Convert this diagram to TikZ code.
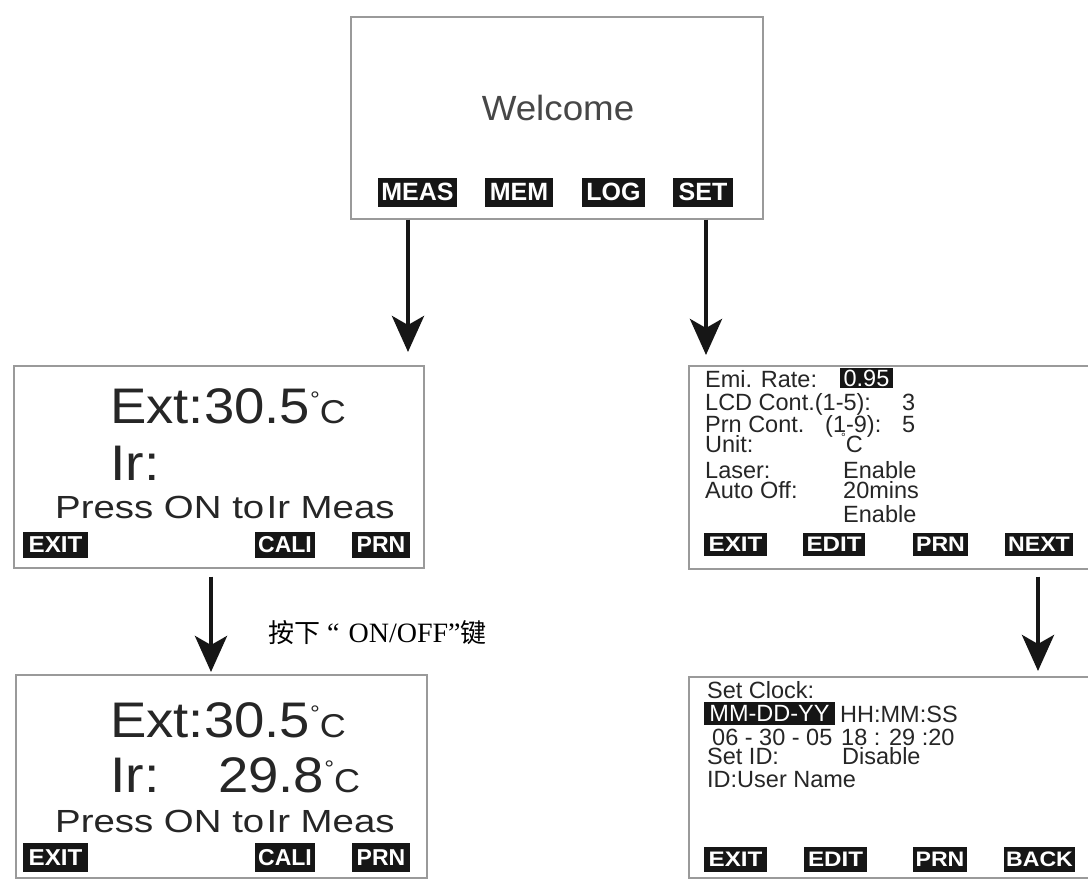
\documentclass[tikz,border=0pt]{standalone}
\usepackage{fontspec}
\setmainfont{Liberation Sans}
\newfontfamily\cjkfont{Noto Sans CJK SC}
\newfontfamily\latserif{Liberation Serif}
\usepackage{graphicx}
\usetikzlibrary{arrows.meta}
\newcommand\wx[2]{\scalebox{#1}[1]{#2}}
\newcommand\degC{\raisebox{0.31em}{\scalebox{0.45}{°}}\scalebox{0.66}{C}}
\newcommand\unitdeg{\raisebox{0.45em}{\scalebox{0.5}{°}}C}
\definecolor{lcd}{HTML}{262626}
\definecolor{frame}{HTML}{9A9A9A}
\definecolor{key}{HTML}{161616}
\begin{document}
\begin{tikzpicture}[x=1pt,y=-1pt,
 screen/.style={draw=frame, line width=1.6pt, fill=white, inner sep=0pt, anchor=north west},
 keybig/.style={fill=key, text=white, inner sep=0pt, font=\bfseries\fontsize{25}{25}\selectfont},
 keymid/.style={keybig, font=\bfseries\fontsize{23}{23}\selectfont},
 keysm/.style={keybig, font=\bfseries\fontsize{21}{21}\selectfont},
 bigtxt/.style={anchor=base west, inner sep=0pt, text=lcd, font=\fontsize{50}{50}\selectfont},
 midtxt/.style={anchor=base west, inner sep=0pt, text=lcd, font=\fontsize{32}{32}\selectfont},
 smtxt/.style={anchor=base west, inner sep=0pt, text=lcd, font=\fontsize{23.5}{23.5}\selectfont},
 hilite/.style={fill=key, text=white, inner sep=0pt, font=\fontsize{23.5}{23.5}\selectfont},
 flow/.style={draw=key, line width=4.5pt, -{Stealth[length=36pt,width=32pt,inset=9pt]}},
]
\useasboundingbox (0,0) rectangle (1088,879);

% screens
\node[screen, minimum width=412, minimum height=202] (welcome) at (350,16) {};
\node[screen, minimum width=410, minimum height=202] (m1) at (13,365) {};
\node[screen, minimum width=411, minimum height=203] (m2) at (15,674) {};
\node[screen, minimum width=412, minimum height=203] (s1) at (688,365) {};
\node[screen, minimum width=412, minimum height=201] (s2) at (688,676) {};

% welcome screen
\node[anchor=base, inner sep=0pt, text=lcd!85, font=\fontsize{35}{35}\selectfont] (wtxt) at (558,120) {\wx{1.05}{Welcome}};
\node[keybig, minimum width=79, minimum height=29] (meas) at (417.5,192) {MEAS};
\node[keybig, minimum width=68, minimum height=29] (mem) at (519,192) {MEM};
\node[keybig, minimum width=63, minimum height=29] (log) at (613.5,192) {LOG};
\node[keybig, minimum width=60, minimum height=29] (set) at (703,192) {SET};

% measuring screen 1
\node[bigtxt] (m1ext) at (110,423) {\wx{1.09}{Ext:30.5\degC}};
\node[bigtxt] (m1ir) at (110,480) {\wx{1.11}{Ir:}};
\node[midtxt] (m1press) at (55,518) {\wx{1.2}{Press ON to\hspace{0.06em}Ir Meas}};
\node[keymid, minimum width=65, minimum height=26] (m1exit) at (55.5,545) {\wx{1.05}{EXIT}};
\node[keymid, minimum width=60, minimum height=26] (m1cali) at (285,545) {\wx{1.0}{CALI}};
\node[keymid, minimum width=58, minimum height=26] (m1prn) at (381,545) {\wx{1.0}{PRN}};

% measuring screen 2
\node[bigtxt] (m2ext) at (110,737) {\wx{1.09}{Ext:30.5\degC}};
\node[bigtxt] (m2ir) at (110,792) {\wx{1.11}{Ir:}};
\node[bigtxt] (m2val) at (218,792) {\wx{1.09}{29.8\degC}};
\node[midtxt] (m2press) at (55,832) {\wx{1.2}{Press ON to\hspace{0.06em}Ir Meas}};
\node[keymid, minimum width=65, minimum height=29] (m2exit) at (55.5,857.5) {\wx{1.05}{EXIT}};
\node[keymid, minimum width=60, minimum height=29] (m2cali) at (285,857.5) {\wx{1.0}{CALI}};
\node[keymid, minimum width=58, minimum height=29] (m2prn) at (381,857.5) {\wx{1.0}{PRN}};

% settings screen 1
\node[smtxt] (s1a) at (705,387) {Emi. Rate:};
\node[hilite, minimum width=53, minimum height=20] (s1rate) at (866.5,378) {0.95};
\node[smtxt] (s1b) at (705,410) {LCD Cont.(1-5):};
\node[smtxt] (s1bv) at (902,410) {3};
\node[smtxt] (s1c) at (705,432) {Prn Cont.};
\node[smtxt] (s1cr) at (825,432) {(1-9):};
\node[smtxt] (s1cv) at (902,432) {5};
\node[smtxt] (s1d) at (705,452) {Unit:};
\node[smtxt] (s1dv) at (841,452) {\unitdeg};
\node[smtxt] (s1e) at (705,478) {Laser:};
\node[smtxt] (s1ev) at (843,478) {Enable};
\node[smtxt] (s1f) at (705,498) {Auto Off:};
\node[smtxt] (s1fv) at (843,498) {20mins};
\node[smtxt] (s1gv) at (843,522) {Enable};
\node[keysm, minimum width=63, minimum height=23] (s1exit) at (735.5,544.5) {\wx{1.15}{EXIT}};
\node[keysm, minimum width=62, minimum height=23] (s1edit) at (834,544.5) {\wx{1.15}{EDIT}};
\node[keysm, minimum width=55, minimum height=23] (s1prn) at (940.5,544.5) {\wx{1.1}{PRN}};
\node[keysm, minimum width=68, minimum height=23] (s1next) at (1039,544.5) {\wx{1.1}{NEXT}};

% settings screen 2
\node[smtxt] (s2a) at (707,698) {Set Clock:};
\node[hilite, minimum width=131, minimum height=23] (s2fmt) at (769.5,713.5) {MM-DD-YY};
\node[smtxt] (s2b) at (840,722) {HH:MM:SS};
\node[smtxt] (s2date) at (712,745) {06 - 30 - 05};
\node[smtxt] (s2time) at (841,745) {18 : 29 :20};
\node[smtxt] (s2c) at (707,764) {Set ID:};
\node[smtxt] (s2cv) at (842,764) {Disable};
\node[smtxt] (s2d) at (707,787) {ID:User Name};
\node[keysm, minimum width=63, minimum height=25] (s2exit) at (735.5,859.5) {\wx{1.15}{EXIT}};
\node[keysm, minimum width=63, minimum height=25] (s2edit) at (835.5,859.5) {\wx{1.15}{EDIT}};
\node[keysm, minimum width=54, minimum height=25] (s2prn) at (940,859.5) {\wx{1.1}{PRN}};
\node[keysm, minimum width=71, minimum height=25] (s2back) at (1039.5,859.5) {\wx{1.1}{BACK}};

% hint
\node[anchor=base west, inner sep=0pt, font=\cjkfont\fontsize{26}{26}\selectfont] (hint) at (268,642) {按下\hspace{7pt}{\latserif\fontsize{28}{28}\selectfont “\hspace{9pt}ON/OFF”}键};

% arrows
\coordinate (xa) at (408,0);
\coordinate (xb) at (706,0);
\coordinate (xc) at (1038,0);
\coordinate (xd) at (211,0);
\draw[flow, shorten >=13pt] (welcome.south -| xa) -- (m1.north -| xa);
\draw[flow, shorten >=10pt] (welcome.south -| xb) -- (s1.north -| xb);
\draw[flow, shorten <=7pt, shorten >=5pt] (s1.south -| xc) -- (s2.north -| xc);
\draw[flow, shorten <=8pt, shorten >=2pt] (m1.south -| xd) -- (m2.north -| xd);
\end{tikzpicture}
\end{document}
